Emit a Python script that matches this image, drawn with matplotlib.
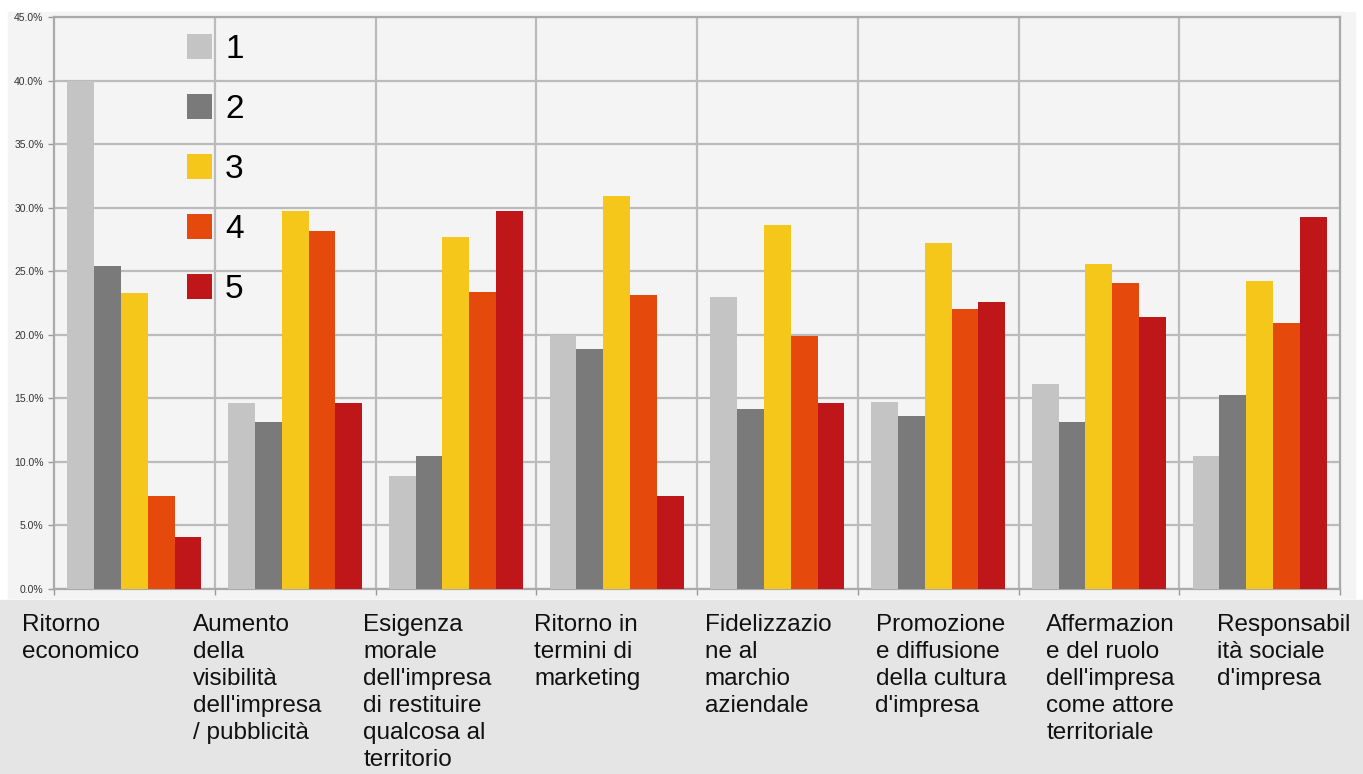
import numpy as np
import matplotlib.pyplot as plt
from matplotlib.patches import Rectangle

categories = [
    "Ritorno\neconomico",
    "Aumento\ndella\nvisibilità\ndell'impresa\n/ pubblicità",
    "Esigenza\nmorale\ndell'impresa\ndi restituire\nqualcosa al\nterritorio",
    "Ritorno in\ntermini di\nmarketing",
    "Fidelizzazio\nne al\nmarchio\naziendale",
    "Promozione\ne diffusione\ndella cultura\nd'impresa",
    "Affermazion\ne del ruolo\ndell'impresa\ncome attore\nterritoriale",
    "Responsabil\nità sociale\nd'impresa",
]
series_names = ["1", "2", "3", "4", "5"]
s1 = [40.0, 14.6, 8.9, 20.0, 23.0, 14.7, 16.1, 10.5]
s2 = [25.4, 13.1, 10.5, 18.9, 14.2, 13.6, 13.1, 15.3]
s3 = [23.3, 29.7, 27.7, 30.9, 28.6, 27.2, 25.6, 24.2]
s4 = [7.3, 28.2, 23.4, 23.1, 19.9, 22.0, 24.1, 20.9]
s5 = [4.1, 14.6, 29.7, 7.3, 14.6, 22.6, 21.4, 29.3]
series = [s1, s2, s3, s4, s5]
colors = ["#c4c4c4", "#7a7a7a", "#f6c71b", "#e5490c", "#bf161a"]
yticks = np.arange(0, 46, 5)

W, H = 1363, 774
plt.rcParams['font.family'] = ['Liberation Sans', 'DejaVu Sans']
fig = plt.figure(figsize=(W / 100, H / 100), dpi=100)

# background panels
fig.patches.append(Rectangle((8 / W, 1 - 598 / H), 1347 / W, 586 / H,
                             transform=fig.transFigure, color="#f4f4f4", zorder=-5))
fig.patches.append(Rectangle((0, 0), 1, 1 - 600 / H,
                             transform=fig.transFigure, color="#e5e5e5", zorder=-5))

ax = fig.add_axes([54 / W, 1 - 589 / H, (1340 - 54) / W, (589 - 17) / H])
ax.set_facecolor("#f4f4f4")

x = np.arange(len(categories))
w = 1 / 6
for j, (vals, name, c) in enumerate(zip(series, series_names, colors)):
    ax.bar(x + (j - 2) * w, vals, width=w, color=c, label=name, zorder=3)

ax.set_xlim(-0.5, len(categories) - 0.5)
ax.set_ylim(0, 45)
ax.set_yticks(yticks)
ax.set_yticklabels([f"{v:.1f}%" for v in yticks], fontsize=7.5, color="#333333")
ax.yaxis.grid(True, color="#bbbbbb", linewidth=1.6, zorder=1)
for b in np.arange(0.5, len(categories) - 0.5, 1):
    ax.axvline(b, color="#bbbbbb", linewidth=1.6, zorder=1)
ax.set_xticks(np.arange(-0.5, len(categories), 1))
ax.set_xticklabels([])
ax.tick_params(axis='both', length=4, color="#999999", width=1)
for s in ax.spines.values():
    s.set_color("#aaaaaa")
    s.set_linewidth(1.6)

for i, lab in enumerate(categories):
    fig.text((22 + i * 170.7) / W, 1 - 614 / H, lab, ha='left', va='top',
             fontsize=17.5, color="#111111", linespacing=1.3)

ax.legend(loc='upper left', bbox_to_anchor=(187 / W, 1 - 34 / H),
          bbox_transform=fig.transFigure, frameon=False, fontsize=24,
          handlelength=0.75, handleheight=0.75, handletextpad=0.39,
          labelspacing=0.87, borderpad=0, borderaxespad=0)

fig.savefig("out.png", dpi=100)
